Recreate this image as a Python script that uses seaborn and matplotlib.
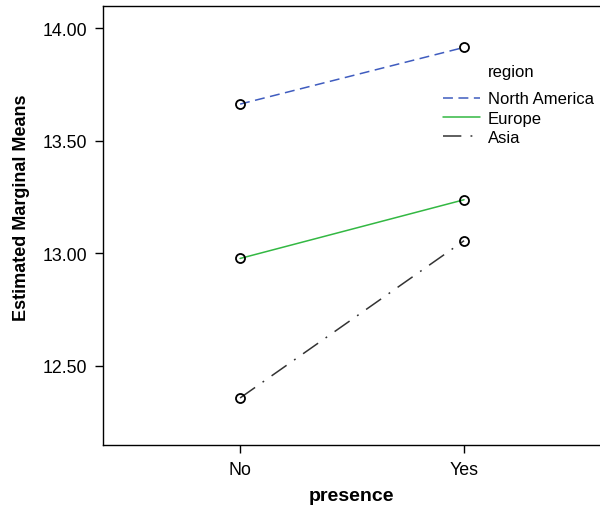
import matplotlib
matplotlib.use("Agg")
import matplotlib.pyplot as plt
from matplotlib.lines import Line2D
import numpy as np
import pandas as pd
import seaborn as sns

# estimated marginal means
presence = ['No', 'Yes']
regions = ['North America', 'Europe', 'Asia']
north_america = [13.662, 13.914]
europe = [12.976, 13.237]
asia = [12.356, 13.055]

df = pd.DataFrame({
    'presence': presence * 3,
    'region': np.repeat(regions, 2),
    'emm': north_america + europe + asia,
})

sns.set_style('white')
plt.rcParams['font.family'] = ['Liberation Sans', 'DejaVu Sans']
plt.rcParams['text.color'] = 'k'
plt.rcParams['axes.labelcolor'] = 'k'
plt.rcParams['xtick.color'] = 'k'
plt.rcParams['ytick.color'] = 'k'

line_colors = ['#3f5cbf', '#33b843', '#333333']
dash_styles = [(0, (6.5, 3.6)), '-', (0, (12, 6, 1.2, 6))]

fig = plt.figure(figsize=(6, 5.1), dpi=100)
ax = fig.add_axes([103/600, 64/510, 497/600, 439/510])

sns.pointplot(data=df, x='presence', y='emm', hue='region', hue_order=regions,
              palette=line_colors, linestyles=dash_styles, markers='',
              errorbar=None, ax=ax, legend=False, linewidth=1.1)
sns.pointplot(data=df, x='presence', y='emm', hue='region', hue_order=regions,
              palette=['k', 'k', 'k'], linestyles='none', markers='o',
              markerfacecolor='none', markersize=6.5, markeredgewidth=1.3,
              errorbar=None, ax=ax, legend=False)

ax.set_xlim(-0.612, 1.607)
ax.set_ylim(12.147, 14.098)
ax.set_yticks([12.5, 13.0, 13.5, 14.0])
ax.set_yticklabels(['%.2f' % v for v in [12.5, 13.0, 13.5, 14.0]])
ax.tick_params(axis='both', direction='out', length=6, width=1, color='k',
               labelsize=12.8, pad=5.5, left=True, bottom=True)
for s in ['left', 'bottom', 'top']:
    ax.spines[s].set_visible(True)
    ax.spines[s].set_color('k')
    ax.spines[s].set_linewidth(1.0)
ax.spines['right'].set_visible(False)

ax.set_xlabel('presence', fontsize=14, fontweight='bold')
ax.set_ylabel('Estimated Marginal Means', fontsize=13, fontweight='bold')
ax.xaxis.set_label_coords((351 - 103) / 497, (446 - 497) / 439)
ax.yaxis.set_label_coords((22 - 103) / 497, (446 - 208) / 439)
ax.xaxis.label.set_va('center')
ax.yaxis.label.set_va('center')

handles = [Line2D([], [], color=c, ls=ls, lw=1.1) for c, ls in zip(line_colors, dash_styles)]
leg = ax.legend(handles, regions, loc='upper left', bbox_to_anchor=(443/600, 1 - 92.5/510),
                bbox_transform=fig.transFigure, frameon=False, fontsize=12,
                handlelength=2.2, handletextpad=0.5, labelspacing=0.26,
                borderpad=0, borderaxespad=0)
fig.text(488/600, 1 - 73/510, 'region', fontsize=12, ha='left', va='center')

fig.savefig('out.png', dpi=100)
